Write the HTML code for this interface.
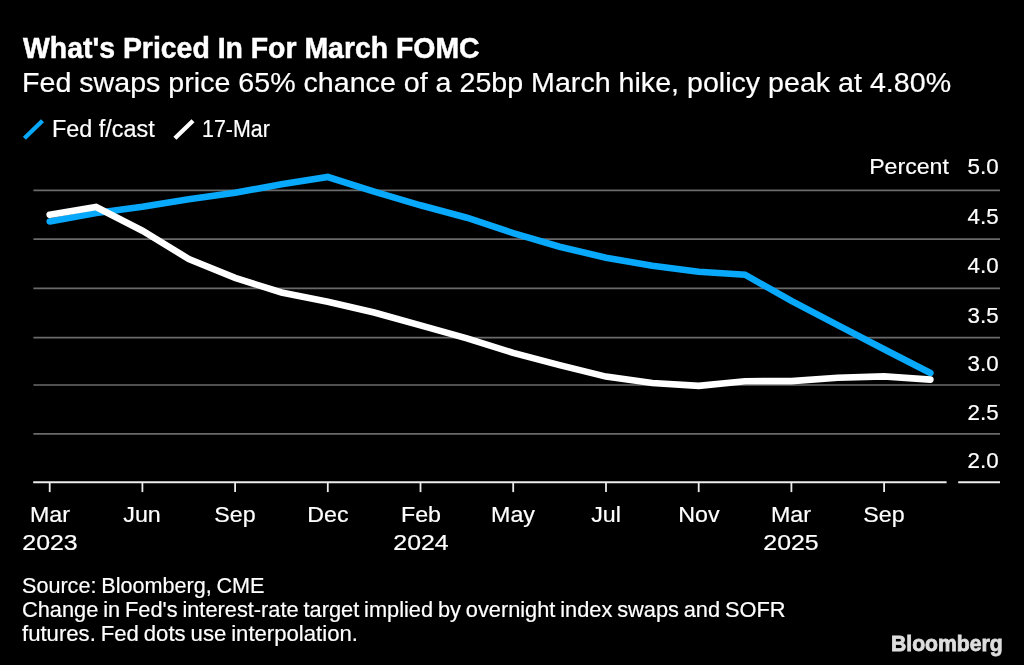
<!DOCTYPE html>
<html><head><meta charset="utf-8">
<style>
html,body{margin:0;padding:0;background:#000;}
body{width:1024px;height:665px;overflow:hidden;position:relative;font-family:"Liberation Sans",sans-serif;color:#fff;}
.t{position:absolute;white-space:nowrap;line-height:1;transform-origin:0 0;-webkit-text-stroke:0.2px #fff;}
#title{left:23.3px;top:33.1px;font-size:30px;font-weight:bold;transform:scaleX(0.947);-webkit-text-stroke:0.5px #fff;}
#sub{left:21.9px;top:69.9px;font-size:27px;transform:scaleX(1.06);}
.lg{font-size:23px;}
#lg1{left:52.3px;top:118.0px;transform:scaleX(1.017);}
#lg2{left:201.7px;top:118.0px;transform:scaleX(0.93);}
.yl{font-size:22px;right:25.3px;text-align:right;transform-origin:100% 0;transform:scaleX(1.015);}
.xl{font-size:22.5px;text-align:center;transform-origin:50% 0;transform:translateX(-50%) scaleX(1.032);line-height:28px;}
.xy{transform:translateX(-50%) scaleX(1.105);}
.ft{font-size:22px;left:21.5px;transform:scaleX(0.9816);word-spacing:-1.2px;}
#f2{transform:scaleX(0.990);}
#f3{transform:scaleX(1.0058);}
#bb{left:890.8px;top:634.2px;font-size:21.5px;font-weight:bold;color:#dedede;transform:scaleX(0.984);-webkit-text-stroke:0.8px #dedede;}
svg{position:absolute;left:0;top:0;}
</style></head><body>
<svg width="1024" height="665" viewBox="0 0 1024 665">
<g stroke="#6a6a6a" stroke-width="1.7">
<line x1="33.4" x2="1000" y1="190.3" y2="190.3"/>
<line x1="33.4" x2="1000" y1="239.2" y2="239.2"/>
<line x1="33.4" x2="1000" y1="288.3" y2="288.3"/>
<line x1="33.4" x2="1000" y1="337.6" y2="337.6"/>
<line x1="33.4" x2="1000" y1="385.0" y2="385.0"/>
<line x1="33.4" x2="1000" y1="433.8" y2="433.8"/>
</g>
<g stroke="#ececec" stroke-width="2">
<line x1="33.2" x2="946.6" y1="482.3" y2="482.3"/>
<line x1="958.2" x2="1000" y1="482.3" y2="482.3"/>
<g id="ticks" stroke-width="1.8">
<line x1="49.7" x2="49.7" y1="482.3" y2="492.1"/>
<line x1="142.4" x2="142.4" y1="482.3" y2="492.1"/>
<line x1="235.1" x2="235.1" y1="482.3" y2="492.1"/>
<line x1="327.8" x2="327.8" y1="482.3" y2="492.1"/>
<line x1="420.5" x2="420.5" y1="482.3" y2="492.1"/>
<line x1="513.2" x2="513.2" y1="482.3" y2="492.1"/>
<line x1="606.0" x2="606.0" y1="482.3" y2="492.1"/>
<line x1="698.7" x2="698.7" y1="482.3" y2="492.1"/>
<line x1="791.4" x2="791.4" y1="482.3" y2="492.1"/>
<line x1="884.1" x2="884.1" y1="482.3" y2="492.1"/>
</g>
</g>
<polyline id="blue" fill="none" stroke="#08a8fa" stroke-width="6.6" stroke-linejoin="miter" stroke-linecap="round"
 points="49.7,221.5 96.1,212.9 142.4,206.8 188.8,199.3 235.1,192.7 281.5,184.3 327.8,177.0 374.2,191.6 420.5,205.3 466.9,217.7 513.2,233.1 559.6,246.7 606.0,257.8 652.3,265.7 698.7,271.7 745.0,274.7 791.4,300.9 837.7,325.1 884.1,349.2 930.4,373.0"/>
<polyline id="white" fill="none" stroke="#fff" stroke-width="6.6" stroke-linejoin="miter" stroke-linecap="round"
 points="49.7,214.8 96.1,207.0 142.4,230.7 188.8,259.0 235.1,277.9 281.5,292.5 327.8,301.8 374.2,312.5 420.5,325.4 466.9,338.4 513.2,352.9 559.6,365.1 606.0,376.6 652.3,383.0 698.7,385.9 745.0,381.2 791.4,381.1 837.7,377.8 884.1,376.4 930.4,379.6"/>
<line x1="24.4" y1="138.3" x2="42.5" y2="120.7" stroke="#08a8fa" stroke-width="4.3"/>
<line x1="174.9" y1="138.3" x2="193" y2="120.7" stroke="#fff" stroke-width="4.3"/>
</svg>
<div class="t" id="title">What's Priced In For March FOMC</div>
<div class="t" id="sub">Fed swaps price 65% chance of a 25bp March hike, policy peak at 4.80%</div>
<div class="t lg" id="lg1">Fed f/cast</div>
<div class="t lg" id="lg2">17-Mar</div>
<div class="t yl" id="ypct" style="top:156.0px;right:75.0px;transform:scaleX(1.05)">Percent</div>
<div class="t yl" id="y50" style="top:155.8px">5.0</div>
<div class="t yl" id="y45" style="top:206.4px">4.5</div>
<div class="t yl" id="y40" style="top:254.9px">4.0</div>
<div class="t yl" id="y35" style="top:304.5px">3.5</div>
<div class="t yl" id="y30" style="top:352.9px">3.0</div>
<div class="t yl" id="y25" style="top:402.0px">2.5</div>
<div class="t yl" id="y20" style="top:449.5px">2.0</div>
<div class="t xl" id="x0" style="left:49.7px;top:501.0px">Mar</div>
<div class="t xl xy" id="xy0" style="left:49.7px;top:529.0px">2023</div>
<div class="t xl" id="x1" style="left:142.4px;top:501.0px">Jun</div>
<div class="t xl" id="x2" style="left:235.1px;top:501.0px">Sep</div>
<div class="t xl" id="x3" style="left:327.8px;top:501.0px">Dec</div>
<div class="t xl" id="x4" style="left:420.5px;top:501.0px">Feb</div>
<div class="t xl xy" id="xy4" style="left:420.5px;top:529.0px">2024</div>
<div class="t xl" id="x5" style="left:513.2px;top:501.0px">May</div>
<div class="t xl" id="x6" style="left:606.0px;top:501.0px">Jul</div>
<div class="t xl" id="x7" style="left:698.7px;top:501.0px">Nov</div>
<div class="t xl" id="x8" style="left:791.4px;top:501.0px">Mar</div>
<div class="t xl xy" id="xy8" style="left:791.4px;top:529.0px">2025</div>
<div class="t xl" id="x9" style="left:884.1px;top:501.0px">Sep</div>
<div class="t ft" id="f1" style="top:575.1px">Source: Bloomberg, CME</div>
<div class="t ft" id="f2" style="top:598.6px">Change in Fed's interest-rate target implied by overnight index swaps and SOFR</div>
<div class="t ft" id="f3" style="top:623.0px">futures. Fed dots use interpolation.</div>
<div class="t" id="bb">Bloomberg</div>
</body></html>
